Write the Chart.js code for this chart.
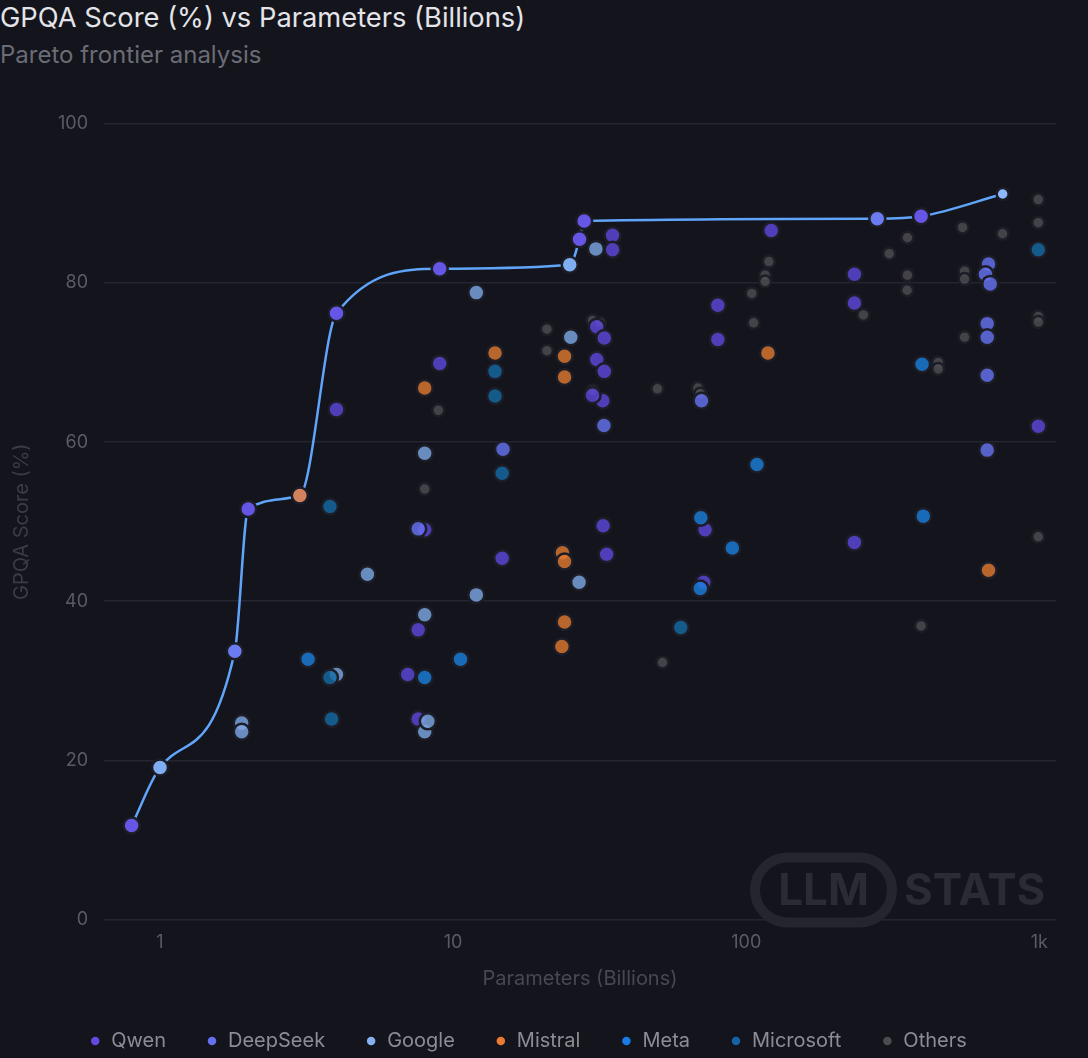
<!DOCTYPE html>
<html>
<head>
<meta charset="utf-8">
<script src="https://cdn.jsdelivr.net/npm/chart.js@4.4.1/dist/chart.umd.min.js"></script>
<style>
  html, body { margin: 0; padding: 0; background: #13141c; }
  body { width: 1088px; height: 1058px; overflow: hidden; position: relative; font-family: Inter, "Noto Sans", sans-serif; }
  #title { position: absolute; left: 0; top: 1px; font-size: 27.3px; line-height: 33px; color: #e4e4e8; white-space: nowrap; }
  #subtitle { position: absolute; left: 0; top: 40px; font-size: 24px; line-height: 29px; color: #6b6c75; white-space: nowrap; }
  #wrap { position: absolute; left: 0; top: 0; width: 1088px; height: 1058px; }
</style>
</head>
<body>
<div id="title">GPQA Score (%) vs Parameters (Billions)</div>
<div id="subtitle">Pareto frontier analysis</div>
<div id="wrap"><canvas id="chart"></canvas></div>
<script>
// values (params in billions, GPQA in %)
const qwenParams = [4, 9, 8, 7.6, 7, 7.6, 14.7, 32.5, 33.4, 72.4, 71.6, 234, 35, 35, 80, 80, 30.9, 32.8, 30.9, 32.8, 32.4, 29.9, 121.7, 234, 234, 992];
const qwenScores = [64.1, 69.9, 49.0, 36.4, 30.8, 25.2, 45.4, 49.5, 45.9, 49.0, 42.4, 47.4, 86.0, 84.2, 77.2, 72.9, 74.5, 73.1, 70.4, 68.9, 65.2, 65.9, 86.6, 81.1, 77.5, 62.0];

const deepseekParams = [7.6, 14.8, 32.7, 70.4, 671, 655, 680, 664, 664, 664, 664];
const deepseekScores = [49.1, 59.1, 62.1, 65.2, 82.4, 81.1, 79.9, 74.9, 73.2, 68.4, 59.0];

const googleParams = [1.9, 1.9, 4, 5.1, 8, 8, 8, 8.2, 12, 12, 25.2, 26.9, 30.7];
const googleScores = [24.7, 23.6, 30.8, 43.4, 58.6, 38.3, 23.6, 24.9, 78.8, 40.8, 73.2, 42.4, 84.3];

const mistralParams = [8, 13.9, 24, 24, 23.6, 24, 24, 23.5, 118.6, 671];
const mistralScores = [66.8, 71.2, 70.8, 68.2, 46.1, 45.0, 37.4, 34.3, 71.2, 43.9];

const metaParams = [3.2, 8, 10.6, 70, 69.7, 89.7, 108.8, 402, 398];
const metaScores = [32.7, 30.4, 32.7, 50.5, 41.6, 46.7, 57.2, 50.7, 69.8];

const microsoftParams = [3.8, 3.8, 3.85, 13.9, 13.9, 14.7, 59.8, 992];
const microsoftScores = [51.9, 30.4, 25.2, 68.9, 65.8, 56.1, 36.7, 84.2];

const othersParams = [8, 8.9, 20.9, 20.9, 29.9, 31.7, 29.9, 49.8, 51.8, 68.4, 69.7, 104.5, 106, 116, 116, 119.5, 251, 307.6, 355, 355, 354, 395, 452, 452, 547, 556, 556, 556, 749, 992, 992, 992, 992, 992];
const othersScores = [54.1, 64.0, 74.2, 71.5, 75.3, 75.0, 66.5, 66.7, 32.3, 66.8, 66.1, 78.7, 75.0, 81.0, 80.2, 82.7, 76.0, 83.7, 85.7, 81.0, 79.1, 36.9, 70.0, 69.2, 87.0, 81.5, 80.5, 73.2, 86.2, 90.5, 87.6, 75.8, 75.1, 48.1];

// pareto frontier
const frontierParams = [0.8, 1, 1.8, 2, 3, 4, 9, 25, 27, 28, 280, 395, 750];
const frontierScores = [11.8, 19.1, 33.7, 51.6, 53.3, 76.2, 81.8, 82.3, 85.5, 87.8, 88.1, 88.4, 91.2];
const frontierOrgs = ['Qwen', 'Google', 'DeepSeek', 'Qwen', 'Mistral', 'Qwen', 'Qwen', 'Google', 'Qwen', 'Qwen', 'DeepSeek', 'Qwen', 'Others'];

const xTicks = [1, 10, 100, 1000];

const colors = {
    Qwen: 'rgba(94, 72, 222, 0.8)',
    DeepSeek: 'rgba(104, 116, 245, 0.8)',
    Google: 'rgba(128, 170, 233, 0.8)',
    Mistral: 'rgba(228, 122, 50, 0.8)',
    Meta: 'rgba(28, 128, 222, 0.8)',
    Microsoft: 'rgba(21, 107, 166, 0.8)',
    Others: 'rgba(80, 79, 83, 0.8)'
};
// legend dots are drawn solid
const legendColors = {
    Qwen: '#6448e0',
    DeepSeek: '#6570ee',
    Google: '#86b0f2',
    Mistral: '#ec7a32',
    Meta: '#1a7ae6',
    Microsoft: '#1463a6',
    Others: '#4c4c50'
};
const frontierColors = {
    Qwen: '#6656e6',
    Google: '#7faef2',
    DeepSeek: '#6a7cf0',
    Mistral: '#d4825e',
    Others: '#8fb8ff'
};
const halo = '#1c1d27';

function toPoints(xs, ys) {
    return xs.map((x, i) => ({ x: x, y: ys[i] }));
}

function series(label, xs, ys, order, small) {
    return {
        label: label,
        data: toPoints(xs, ys),
        backgroundColor: colors[label],
        borderColor: halo,
        borderWidth: 2.5,
        pointRadius: small ? 6 : 8,
        pointHoverRadius: small ? 6 : 8,
        order: order
    };
}

// "LLM STATS" mark in the lower right corner
const watermark = {
    id: 'watermark',
    beforeDraw(chart) {
        const { ctx, chartArea } = chart;
        const x = chartArea.right - 301, y = chartArea.bottom - 62, w = 137, h = 65, r = h / 2;
        ctx.save();
        ctx.strokeStyle = '#24252e';
        ctx.lineWidth = 10;
        ctx.beginPath();
        ctx.moveTo(x + r, y);
        ctx.lineTo(x + w - r, y);
        ctx.arc(x + w - r, y + r, r, -Math.PI / 2, Math.PI / 2);
        ctx.lineTo(x + r, y + h);
        ctx.arc(x + r, y + r, r, Math.PI / 2, Math.PI * 1.5);
        ctx.closePath();
        ctx.stroke();
        ctx.fillStyle = '#2a2b34';
        ctx.font = '700 44px Inter, "Liberation Sans", sans-serif';
        ctx.textBaseline = 'middle';
        ctx.textAlign = 'center';
        ctx.fillText('LLM', x + w / 2, y + h / 2 + 2);
        ctx.textAlign = 'left';
        ctx.fillText('STATS', x + w + 12, y + h / 2 + 2);
        ctx.restore();
    }
};

const ctx = document.getElementById('chart');
new Chart(ctx, {
    type: 'scatter',
    data: {
        datasets: [
            {
                type: 'line',
                label: 'Pareto frontier',
                data: toPoints(frontierParams, frontierScores),
                borderColor: '#60a5fa',
                borderWidth: 2.5,
                cubicInterpolationMode: 'monotone',
                fill: false,
                pointBackgroundColor: frontierOrgs.map(o => frontierColors[o]),
                pointBorderColor: halo,
                pointBorderWidth: 2.5,
                pointRadius: frontierOrgs.map(o => o === 'Others' ? 6 : 8),
                order: 0
            },
            series('Qwen', qwenParams, qwenScores, 6),
            series('DeepSeek', deepseekParams, deepseekScores, 5),
            series('Google', googleParams, googleScores, 4),
            series('Mistral', mistralParams, mistralScores, 3),
            series('Meta', metaParams, metaScores, 2),
            series('Microsoft', microsoftParams, microsoftScores, 1),
            series('Others', othersParams, othersScores, 7, true)
        ]
    },
    options: {
        responsive: true,
        maintainAspectRatio: false,
        animation: false,
        layout: { padding: { top: 124, right: 32, left: 0, bottom: -3 } },
        scales: {
            x: {
                type: 'logarithmic',
                bounds: 'data',
                min: 0.644,
                max: 1140,
                grid: { display: false, drawTicks: false },
                border: { display: false },
                ticks: {
                    autoSkip: false,
                    maxRotation: 0,
                    padding: 12,
                    color: '#5a5b64',
                    font: { size: 18, family: 'Inter' },
                    callback: (v) => xTicks.includes(v) ? (v >= 1000 ? (v / 1000) + 'k' : String(v)) : ''
                },
                title: {
                    display: true,
                    text: 'Parameters (Billions)',
                    color: '#474852',
                    font: { size: 20, family: 'Inter' },
                    padding: { top: 2, bottom: 0 }
                }
            },
            y: {
                min: 0,
                max: 100,
                grid: { color: '#24252e', lineWidth: 1.5, drawTicks: false },
                border: { display: false },
                ticks: {
                    stepSize: 20,
                    padding: 16,
                    color: '#5a5b64',
                    font: { size: 18, family: 'Inter' }
                },
                title: {
                    display: true,
                    text: 'GPQA Score (%)',
                    color: '#3b3c45',
                    font: { size: 20, family: 'Inter' },
                    padding: { top: 10, bottom: 0 }
                },
                afterFit(scale) {
                    scale.width = 104;
                }
            }
        },
        plugins: {
            legend: {
                position: 'bottom',
                labels: {
                    usePointStyle: true,
                    pointStyle: 'circle',
                    boxWidth: 12,
                    boxHeight: 6,
                    padding: 40,
                    color: '#8c8d94',
                    font: { size: 20, family: 'Inter' },
                    filter: (item) => item.text !== 'Pareto frontier',
                    sort: (a, b) => a.datasetIndex - b.datasetIndex,
                    generateLabels(chart) {
                        const items = Chart.defaults.plugins.legend.labels.generateLabels(chart);
                        items.forEach((item) => {
                            const c = legendColors[item.text];
                            if (c) {
                                item.fillStyle = c;
                                item.strokeStyle = c;
                                item.lineWidth = 0;
                            }
                        });
                        return items;
                    }
                }
            },
            tooltip: { enabled: false }
        }
    },
    plugins: [watermark]
});
</script>
</body>
</html>
